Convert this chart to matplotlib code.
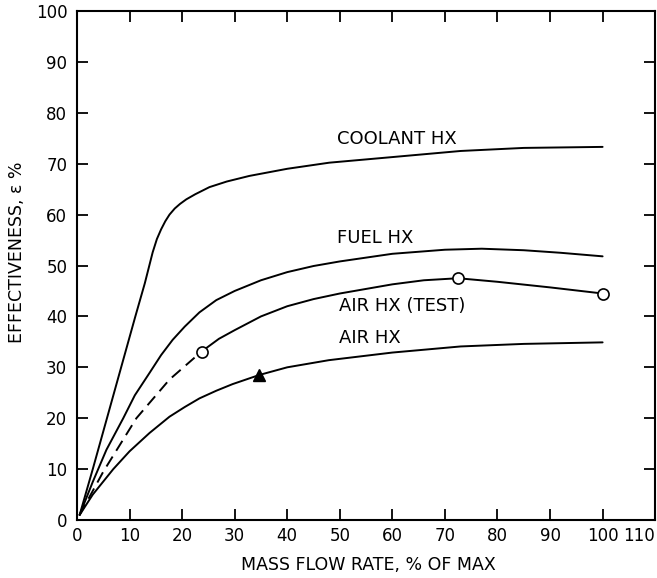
import matplotlib
matplotlib.use("Agg")
import matplotlib.pyplot as plt

# ---- data ----
coolant_x = [0.5, 3, 5.7, 8.4, 11.1, 12.9, 14.4, 15.2, 16.0, 16.8, 17.6, 18.6, 19.6, 20.8, 22.5, 25.2, 28.5, 32.8, 40, 48, 60, 73, 85, 100]
coolant_y = [1.0, 10, 20, 30, 40, 46.5, 52.6, 55.2, 57.1, 58.7, 60.0, 61.2, 62.1, 63.0, 64.0, 65.4, 66.5, 67.6, 69.0, 70.2, 71.3, 72.5, 73.1, 73.3]

fuel_x = [0.5, 3, 5.6, 8.8, 11, 13.8, 16, 18.2, 20.5, 23.3, 26.5, 30, 35, 40, 45, 50, 60, 70, 77, 85, 92, 100]
fuel_y = [1.0, 7.5, 13.8, 20, 24.5, 28.9, 32.4, 35.4, 38.0, 40.8, 43.2, 45.0, 47.1, 48.7, 49.9, 50.8, 52.3, 53.1, 53.3, 53.0, 52.5, 51.8]

air_test_dash_x = [0.5, 5, 11.3, 17.6, 23.7]
air_test_dash_y = [1.0, 9.5, 20, 27.6, 33.1]
air_test_x = [23.7, 27, 30, 35, 40, 45, 50, 60, 66, 72.5, 80, 90, 100]
air_test_y = [33.1, 35.6, 37.3, 40.0, 42.0, 43.4, 44.5, 46.3, 47.1, 47.5, 46.8, 45.7, 44.5]
air_test_pts_x = [23.7, 72.5, 100]
air_test_pts_y = [33.1, 47.5, 44.5]

air_x = [0.5, 3, 6.9, 10, 13.8, 17.6, 20.5, 23.3, 26.5, 29.6, 34.7, 40, 47.9, 60, 73, 85, 100]
air_y = [1.0, 5.0, 10, 13.5, 17.1, 20.3, 22.2, 23.9, 25.4, 26.7, 28.5, 30.0, 31.4, 32.9, 34.1, 34.6, 34.9]
air_pt_x = [34.7]
air_pt_y = [28.5]

x_ticks = [0, 10, 20, 30, 40, 50, 60, 70, 80, 90, 100, 110]
y_ticks = [0, 10, 20, 30, 40, 50, 60, 70, 80, 90, 100]

labels = ["COOLANT HX", "FUEL HX", "AIR HX (TEST)", "AIR HX"]
label_x = [49.4, 49.4, 49.8, 49.8]
label_y = [74.8, 55.5, 42.1, 35.8]

# ---- figure ----
plt.rcParams['font.family'] = ['DejaVu Sans']
fig = plt.figure(figsize=(6.57, 5.78), dpi=100)
ax = fig.add_axes([0.1172, 0.1003, 0.880, 0.8807])

lw = 1.4
kw = dict(color='black', lw=lw, solid_joinstyle='round', solid_capstyle='round')
ax.plot(coolant_x, coolant_y, **kw)
ax.plot(fuel_x, fuel_y, **kw)
ax.plot(air_test_dash_x, air_test_dash_y, color='black', lw=lw, dashes=(6, 3.5))
ax.plot(air_test_x, air_test_y, **kw)
ax.plot(air_x, air_y, **kw)
ax.plot(air_test_pts_x, air_test_pts_y, linestyle='none', marker='o', ms=8,
        mfc='white', mec='black', mew=1.2, zorder=5)
ax.plot(air_pt_x, air_pt_y, linestyle='none', marker='^', ms=9,
        mfc='black', mec='black', zorder=5)

for t, x, y in zip(labels, label_x, label_y):
    ax.text(x, y, t, fontsize=13, ha='left', va='center')

ax.set_xlim(0, 110)
ax.set_ylim(0, 100)
ax.set_xticks(x_ticks)
ax.set_yticks(y_ticks)
ax.tick_params(direction='in', length=8, width=1.3, top=True, right=True,
               labelsize=12, pad=5)
ax.tick_params(axis='y', pad=7)
for s in ax.spines.values():
    s.set_linewidth(1.5)

# keep the last x tick label inside the figure
fig.canvas.draw()
xl = ax.get_xticklabels()
xl[-1].set_horizontalalignment('right')

fig.text(0.560, 0.0225, "MASS FLOW RATE, % OF MAX", fontsize=12.5,
         ha='center', va='center')
fig.text(0.026, 0.564, "EFFECTIVENESS, ε %", fontsize=12.5, rotation=90,
         ha='center', va='center')

fig.savefig("out.png", dpi=100)
